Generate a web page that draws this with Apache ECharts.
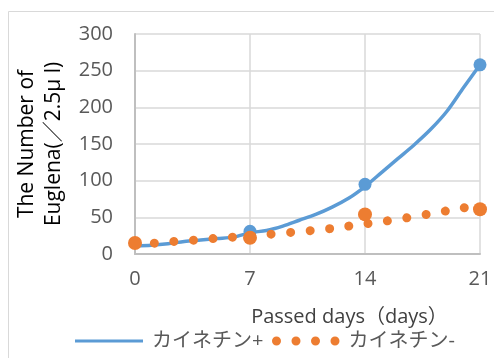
<!DOCTYPE html>
<html>
<head>
<meta charset="utf-8">
<script src="https://cdn.jsdelivr.net/npm/echarts@6/dist/echarts.min.js"></script>
<style>
html,body{margin:0;padding:0;background:#fff;}
#chart{width:494px;height:358px;}
</style>
</head>
<body>
<div id="chart"></div>
<script>
// Days on the x axis
const days = [0,1,2,3,4,5,6,7,8,9,10,11,12,13,14,15,16,17,18,19,20,21];
// Blue curve (カイネチン+)
const plusCurve = [11,12,14,17,19,21,23,29,32,38,46,54,64,76,92,111,130,149,170,195,227,258];
// Orange dotted curve (カイネチン-)
const minusCurve = [14,14.5,16.5,18,19.5,21.5,23,24.5,26.5,28.5,30.5,32.5,35,38,41,44,47.5,51,55,59,63,65];
// Measured points (markers)
const plusDays = [7,14,21];
const plusPoints = [31,95,258];
const minusDays = [0,7,14,21];
const minusPoints = [15,22,54,61];
// Axis ticks
const xTicks = [0,7,14,21];
const yTicks = [0,50,100,150,200,250,300];

const seriesNames = ['カイネチン+','カイネチン-'];
const blue = '#5B9BD5';
const orange = '#ED7D31';
const FONT = '"Open Sans", "Noto Sans CJK JP", sans-serif';

const zip = (xs, ys) => xs.map((x, i) => [x, ys[i]]);

const chart = echarts.init(document.getElementById('chart'), null, {renderer: 'canvas'});

const dotsIcon = 'path://M0,4.5A4.5,4.5,0,1,1,9,4.5A4.5,4.5,0,1,1,0,4.5Z' +
  'M19.5,4.5A4.5,4.5,0,1,1,28.5,4.5A4.5,4.5,0,1,1,19.5,4.5Z' +
  'M39,4.5A4.5,4.5,0,1,1,48,4.5A4.5,4.5,0,1,1,39,4.5Z' +
  'M58.5,4.5A4.5,4.5,0,1,1,67.5,4.5A4.5,4.5,0,1,1,58.5,4.5Z';

chart.setOption({
  animation: false,
  backgroundColor: '#fff',
  textStyle: {fontFamily: FONT},
  graphic: [{
    type: 'rect', silent: true, z: -10,
    shape: {x: 8.5, y: 11.5, width: 600, height: 500},
    style: {fill: 'none', stroke: '#D9D9D9', lineWidth: 1}
  }],
  grid: {left: 135, right: 14, top: 34, bottom: 104, containLabel: false, outerBoundsMode: 'none'},
  legend: [{
    left: 75, top: 331, padding: 0,
    data: [{name: seriesNames[0], icon: 'rect'}],
    itemWidth: 68, itemHeight: 3,
    textStyle: {fontSize: 20, color: '#595959', fontFamily: FONT, padding: [0,0,0,4]}
  }, {
    left: 272, top: 331, padding: 0,
    data: [{name: seriesNames[1], icon: dotsIcon, itemStyle: {color: orange}}],
    itemWidth: 67.5, itemHeight: 9,
    textStyle: {fontSize: 20, color: '#595959', fontFamily: FONT, padding: [0,0,0,4]}
  }],
  xAxis: {
    type: 'value', min: xTicks[0], max: xTicks[xTicks.length-1], interval: 7,
    name: 'Passed days（days）', nameLocation: 'middle', nameGap: 53,
    nameTextStyle: {fontSize: 20, color: '#404040', fontFamily: FONT, padding: [0,0,0,84]},
    axisLine: {show: true, lineStyle: {color: '#BFBFBF', width: 2}},
    axisTick: {show: false},
    axisLabel: {fontSize: 20, color: '#595959', margin: 15, fontFamily: FONT},
    splitLine: {show: true, lineStyle: {color: '#D9D9D9', width: 1.5}}
  },
  yAxis: {
    type: 'value', min: yTicks[0], max: yTicks[yTicks.length-1], interval: 50,
    name: 'The Number of\nEuglena(／2.5μ l)', nameLocation: 'middle', nameGap: 63.5, nameRotate: 90,
    nameTextStyle: {fontSize: 21, color: '#000', lineHeight: 27, fontFamily: FONT},
    axisLine: {show: true, lineStyle: {color: '#BFBFBF', width: 2}},
    axisTick: {show: false},
    axisLabel: {fontSize: 20, color: '#595959', margin: 22, fontFamily: FONT},
    splitLine: {show: true, lineStyle: {color: '#D9D9D9', width: 1.5}}
  },
  series: [{
    name: seriesNames[0], type: 'line', data: zip(days, plusCurve),
    smooth: 0.3, showSymbol: false, symbol: 'none',
    itemStyle: {color: blue},
    lineStyle: {color: blue, width: 3.5, cap: 'round'}, z: 2
  }, {
    name: seriesNames[0] + 'pts', type: 'scatter', data: zip(plusDays, plusPoints),
    symbolSize: 13, itemStyle: {color: blue, opacity: 1}, z: 3
  }, {
    name: seriesNames[1], type: 'line', data: zip(days, minusCurve),
    smooth: 0.3, showSymbol: false, symbol: 'none',
    itemStyle: {color: orange},
    lineStyle: {color: orange, width: 9, type: [0.01, 19.5], cap: 'round'}, z: 4
  }, {
    name: seriesNames[1] + 'pts', type: 'scatter', data: zip(minusDays, minusPoints),
    symbolSize: 14, itemStyle: {color: orange, opacity: 1}, z: 5
  }]
});
</script>
</body>
</html>
